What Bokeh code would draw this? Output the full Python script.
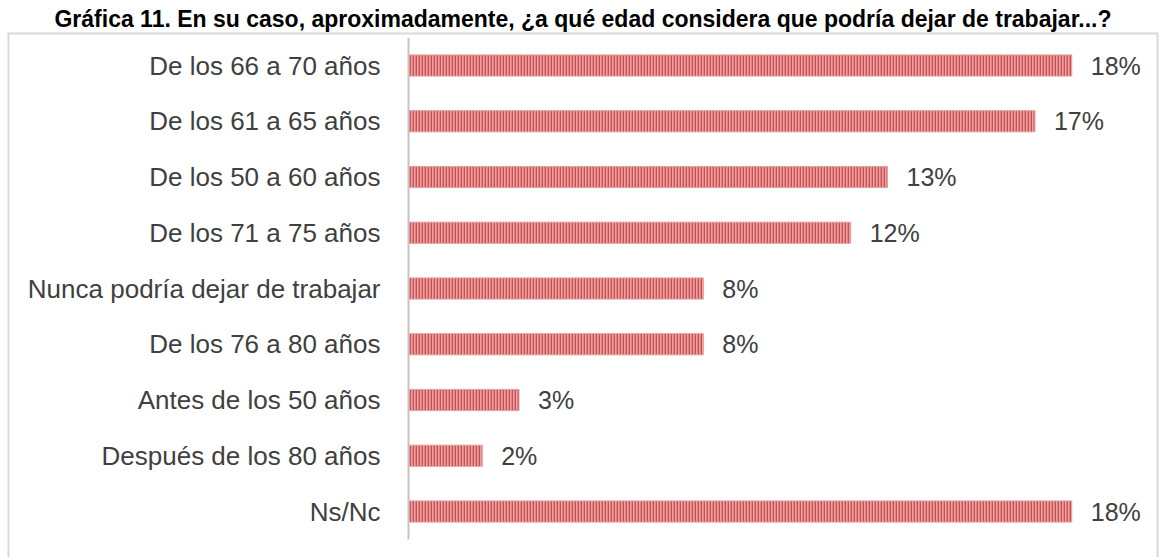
from bokeh.plotting import figure
from bokeh.models import Range1d, ColumnDataSource
from bokeh.embed import file_html
from bokeh.resources import INLINE
from bokeh.core.properties import value

title_text = "Gráfica 11. En su caso, aproximadamente, ¿a qué edad considera que podría dejar de trabajar...?"
categories = [
    "De los 66 a 70 años",
    "De los 61 a 65 años",
    "De los 50 a 60 años",
    "De los 71 a 75 años",
    "Nunca podría dejar de trabajar",
    "De los 76 a 80 años",
    "Antes de los 50 años",
    "Después de los 80 años",
    "Ns/Nc",
]
values = [18, 17, 13, 12, 8, 8, 3, 2, 18]
labels = [f"{v}%" for v in values]

FONT = "Liberation Sans"
TXT = "#404040"

n = len(categories)
ypos = [n - 1 - i for i in range(n)]  # first category on top
src = ColumnDataSource(dict(cat=categories, val=values, lab=labels, y=ypos))

X0, X1 = -10.882, 20.353
Y0, Y1 = -0.825, n - 1 + 0.592

p = figure(
    width=1164, height=557,
    x_range=Range1d(X0, X1),
    y_range=Range1d(Y0, Y1),
    x_axis_type=None, y_axis_type=None,
    output_backend="svg", toolbar_location=None,
    min_border_left=7, min_border_right=6, min_border_top=32, min_border_bottom=0,
)
p.title.text = title_text
p.title.align = "center"
p.title.text_font = FONT
p.title.text_font_style = "bold"
p.title.text_font_size = "23px"
p.title.text_color = "black"
p.title.standoff = 2

p.outline_line_color = None
p.background_fill_color = "white"
p.border_fill_color = "white"
p.grid.grid_line_color = None

# chart border (left, top, right edges; bottom runs off the page)
p.segment(x0=[X0, X0, X1], x1=[X0, X1, X1], y0=[Y0, Y1, Y1], y1=[Y1, Y1, Y0],
          line_color="#d9d9d9", line_width=4)

p.hbar(y="y", left=0, right="val", height=0.38, source=src,
       fill_color="#eaa2a2", line_color="#e3a0a0", line_width=1,
       hatch_pattern="vertical_line", hatch_color="#cc4f51",
       hatch_scale=3, hatch_weight=1.8)

# axis line
p.segment(x0=[0], x1=[0], y0=[-0.5], y1=[n - 0.5], line_color="#c4c4c4", line_width=2)

# category labels
p.text(x=0, y="y", text="cat", source=src, x_offset=-28,
       text_baseline="middle", text_align="right",
       text_font=value(FONT), text_font_size="26px", text_color=TXT)

# value labels
p.text(x="val", y="y", text="lab", source=src, x_offset=19,
       text_baseline="middle", text_align="left",
       text_font=value(FONT), text_font_size="25px", text_color=TXT)

open("out.html", "w").write(file_html(p, INLINE))
